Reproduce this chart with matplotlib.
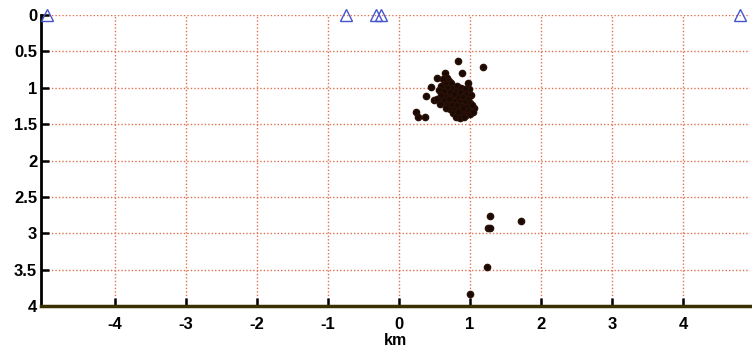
import numpy as np
from matplotlib import pyplot as plt

plt.rcParams['font.family'] = ['Liberation Sans', 'DejaVu Sans']
plt.rcParams['axes.unicode_minus'] = False

# stations along the surface (km)
station_x = [-4.95, -0.74, -0.32, -0.25, 4.80]
station_depth = [0, 0, 0, 0, 0]

# earthquake hypocentres: horizontal distance (km), depth (km)
quake_x = [0.835, 1.19, 0.885, 0.65, 0.685, 0.545, 0.975, 0.45, 0.99, 0.38,
           0.50, 0.24, 0.275, 0.37, 1.06,
           0.62, 0.70, 0.66, 0.74, 0.60, 0.68, 0.76, 0.82, 0.88, 0.93,
           0.56, 0.64, 0.72, 0.80, 0.86, 0.95, 1.02, 0.60, 0.67, 0.75,
           0.83, 0.90, 0.97, 0.63, 0.71, 0.78, 0.86, 0.93, 1.00, 0.68,
           0.75, 0.82, 0.89, 0.96, 1.03, 0.72, 0.79, 0.85, 0.92, 0.98,
           0.76, 0.82, 0.88, 0.94, 1.00, 0.80, 0.86, 0.92, 0.58, 0.66,
           0.54, 1.05, 0.84, 0.90, 0.78, 0.70,
           1.29, 1.25, 1.29, 1.72, 1.245, 0.997]
quake_depth = [0.63, 0.715, 0.79, 0.80, 0.86, 0.87, 0.935, 0.99, 1.01, 1.11,
               1.17, 1.33, 1.40, 1.40, 1.28,
               0.88, 0.90, 0.95, 0.94, 0.98, 1.00, 1.00, 0.98, 1.00, 1.02,
               1.03, 1.05, 1.06, 1.05, 1.06, 1.08, 1.10, 1.10, 1.12, 1.12,
               1.12, 1.13, 1.15, 1.17, 1.18, 1.18, 1.19, 1.20, 1.21, 1.23,
               1.24, 1.24, 1.25, 1.26, 1.24, 1.29, 1.30, 1.30, 1.31, 1.32,
               1.35, 1.36, 1.36, 1.37, 1.36, 1.40, 1.41, 1.40, 1.22, 1.28,
               1.15, 1.33, 1.33, 1.28, 1.08, 1.15,
               2.77, 2.93, 2.93, 2.83, 3.47, 3.835]

xticks = [-4, -3, -2, -1, 0, 1, 2, 3, 4]
yticks = [0, 0.5, 1, 1.5, 2, 2.5, 3, 3.5, 4]
ytick_labels = ['0', '0.5', '1', '1.5', '2', '2.5', '3', '3.5', '4']

fig = plt.figure(figsize=(7.52, 3.52), dpi=100)
ax = fig.add_axes([0.055, 0.131, 0.943, 0.826])

ax.plot(quake_x, quake_depth, 'o', color='#1a0a05', markersize=4.5,
        markeredgecolor='#2a1005', zorder=3)
ax.plot(station_x, station_depth, '^', markerfacecolor='none',
        markeredgecolor='#4455cc', markersize=8.5, clip_on=False, zorder=4)

ax.set_xlim(-5.03, 4.95)
ax.set_ylim(4, 0)
ax.set_xticks(xticks)
ax.set_yticks(yticks)
ax.set_yticklabels(ytick_labels)

for t in xticks:
    ax.axvline(t, color='#e07050', linestyle=(0, (1, 1.5)), linewidth=1, zorder=1)
for t in yticks:
    ax.axhline(t, color='#e07050', linestyle=(0, (1, 1.5)), linewidth=1, zorder=1)

ax.spines['top'].set_visible(False)
ax.spines['right'].set_visible(False)
ax.spines['left'].set_linewidth(2)
ax.spines['bottom'].set_linewidth(2.5)
ax.spines['bottom'].set_color('#3a3000')
ax.tick_params(direction='in', length=6, width=1.8, labelsize=12)
ax.tick_params(axis='x', pad=8)
ax.tick_params(axis='y', pad=3)
for lab in ax.get_xticklabels() + ax.get_yticklabels():
    lab.set_fontweight('bold')
ax.set_xlabel('km', fontweight='bold', fontsize=11.5, labelpad=1)

fig.savefig('out.png', dpi=100)
